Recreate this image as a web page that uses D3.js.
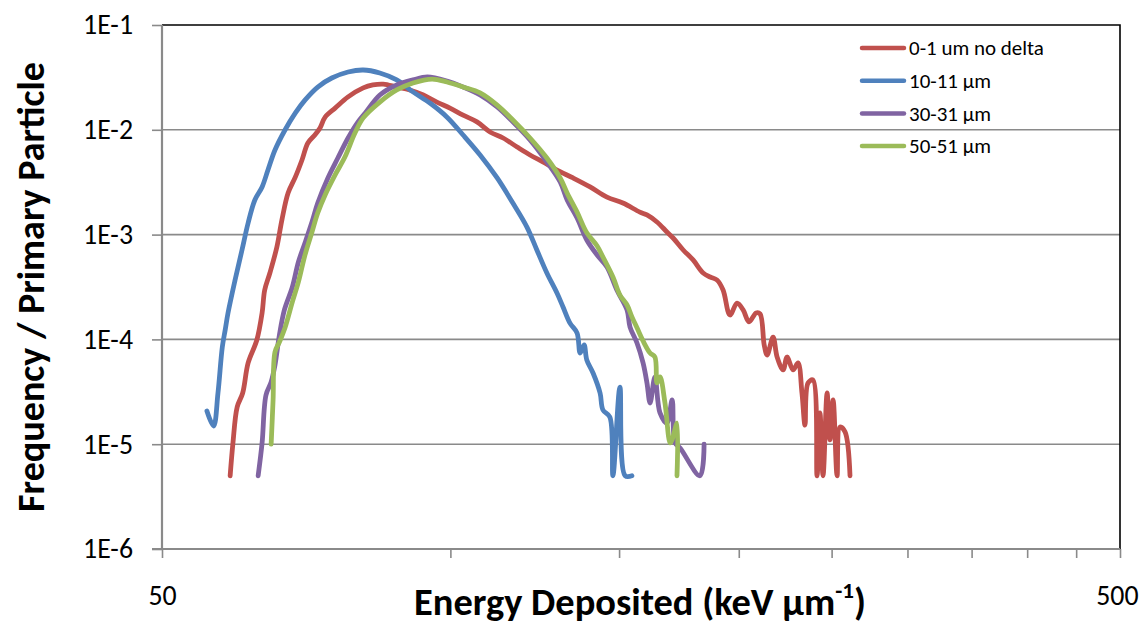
<!DOCTYPE html>
<html>
<head>
<meta charset="utf-8">
<script src="https://cdn.jsdelivr.net/npm/d3@7"></script>
<style>
  html, body { margin: 0; padding: 0; background: #ffffff; }
  svg { display: block; }
</style>
</head>
<body>
<svg id="chart" width="1140" height="625"></svg>
<script>
// Energy deposition spectra for different depth slices (log–log)
const seriesNames = ["0-1 um no delta", "10-11 µm", "30-31 µm", "50-51 µm"];
const seriesColors = ["#C0504D", "#4F81BD", "#8064A2", "#9BBB59"];

// 0-1 um, no delta rays
const energyRed = [58.9, 59.3, 59.9, 60.7, 61.5, 62.8, 63.6, 64.0, 64.8, 65.9, 66.7, 67.7, 68.9, 70.0, 71.0, 72.2, 73.1, 74.0, 75.8, 78.2,
  81.1, 83.0, 85.1, 87.9, 90.7, 93.7, 96.8, 99.9, 103.1, 106.6, 110.0, 113.5, 117.4, 121.1, 124.9, 129.2, 134.3, 139.9, 145.7, 151.4,
  157.7, 160.4, 164.3, 168.3, 170.8, 175.0, 179.2, 183.6, 186.7, 189.8, 192.6, 195.8, 199.2, 202.1, 205.0, 208.5, 210.5, 212.6, 214.1, 217.2,
  219.3, 222.5, 224.6, 227.9, 230.6, 232.8, 234.5, 236.2, 239.0, 241.4, 243.1, 244.9, 247.3, 249.0, 250.9, 253.3, 255.1, 258.2, 261.3];
const freqRed = [5.0e-6, 1.03e-5, 2.26e-5, 3.08e-5, 5.96e-5, 9.87e-5, 1.79e-4, 2.96e-4, 4.30e-4, 7.62e-4, 1.38e-3, 2.49e-3, 3.55e-3, 5.15e-3, 7.48e-3, 8.92e-3, 1.04e-2, 1.32e-2, 1.61e-2, 2.06e-2,
  2.51e-2, 2.68e-2, 2.73e-2, 2.56e-2, 2.40e-2, 2.15e-2, 1.84e-2, 1.61e-2, 1.38e-2, 1.19e-2, 9.53e-3, 8.35e-3, 6.85e-3, 5.75e-3, 4.93e-3, 4.13e-3, 3.47e-3, 2.85e-3, 2.28e-3, 2.00e-3,
  1.64e-3, 1.54e-3, 1.32e-3, 1.06e-3, 9.28e-4, 7.13e-4, 5.73e-4, 4.30e-4, 3.94e-4, 3.69e-4, 2.96e-4, 1.71e-4, 2.22e-4, 1.91e-4, 1.47e-4, 1.79e-4, 1.75e-4, 8.85e-5, 7.10e-5, 1.05e-4,
  6.79e-5, 5.11e-5, 6.79e-5, 5.11e-5, 5.96e-5, 3.08e-5, 1.52e-5, 3.84e-5, 4.10e-5, 5.0e-6, 1.99e-5, 5.0e-6, 3.08e-5, 1.10e-5, 2.64e-5, 5.0e-6, 1.46e-5, 1.31e-5, 5.0e-6];

// 10-11 µm
const energyBlue = [55.7, 56.6, 57.2, 57.8, 58.2, 58.6, 59.6, 60.6, 61.5, 62.5, 63.6, 64.5, 65.6, 67.2, 68.9, 70.5, 72.7, 75.2, 78.2, 81.1,
  84.4, 87.9, 91.4, 95.2, 99.2, 103.1, 107.4, 111.9, 116.2, 120.2, 123.1, 126.1, 129.2, 131.1, 133.3, 135.6, 136.6, 137.9, 138.8, 140.9,
  143.3, 144.3, 146.7, 147.8, 150.3, 152.2, 154.7];
const freqBlue = [2.07e-5, 1.49e-5, 3.08e-5, 8.46e-5, 1.23e-4, 1.79e-4, 3.69e-4, 7.13e-4, 1.29e-3, 2.14e-3, 2.85e-3, 4.13e-3, 6.41e-3, 9.96e-3, 1.45e-2, 1.92e-2, 2.56e-2, 3.12e-2, 3.56e-2, 3.72e-2,
  3.48e-2, 2.99e-2, 2.30e-2, 1.80e-2, 1.32e-2, 8.92e-3, 5.75e-3, 3.47e-3, 2.00e-3, 1.18e-3, 7.13e-4, 4.30e-4, 2.77e-4, 2.04e-4, 1.43e-4, 1.15e-4, 7.41e-5, 8.85e-5, 6.36e-5, 4.78e-5,
  3.08e-5, 2.12e-5, 1.82e-5, 5.0e-6, 3.5e-5, 5.0e-6, 5.0e-6];

// 30-31 µm
const energyPurple = [63.0, 63.6, 64.2, 65.0, 65.6, 66.3, 67.1, 68.4, 69.4, 70.5, 71.7, 72.7, 74.5, 76.3, 78.2, 80.1, 81.5, 84.4, 87.9, 91.4,
  94.6, 99.2, 103.1, 107.4, 111.9, 116.2, 121.1, 126.1, 130.2, 132.4, 135.6, 138.8, 142.3, 145.7, 149.2, 152.9, 154.0, 156.6, 158.9, 160.4,
  161.6, 163.5, 165.5, 168.3, 170.4, 171.6, 173.7, 182.2, 184.0];
const freqPurple = [5.0e-6, 1.03e-5, 2.95e-5, 3.92e-5, 5.70e-5, 1.10e-4, 1.91e-4, 3.16e-4, 5.48e-4, 8.32e-4, 1.32e-3, 2.00e-3, 3.47e-3, 5.38e-3, 8.35e-3, 1.19e-2, 1.45e-2, 2.15e-2, 2.68e-2, 2.99e-2,
  3.19e-2, 2.92e-2, 2.56e-2, 2.15e-2, 1.65e-2, 1.19e-2, 8.00e-3, 4.93e-3, 3.18e-3, 2.14e-3, 1.44e-3, 8.88e-4, 6.38e-4, 4.91e-4, 2.96e-4, 1.91e-4, 1.31e-4, 9.24e-5, 5.96e-5, 3.84e-5,
  2.47e-5, 4.38e-5, 1.99e-5, 1.59e-5, 2.64e-5, 1.03e-5, 9.2e-6, 5.0e-6, 1.0e-5];

// 50-51 µm
const energyGreen = [65.0, 65.3, 65.6, 66.3, 67.2, 68.4, 69.4, 70.5, 71.7, 72.7, 74.0, 75.8, 77.6, 79.5, 81.1, 84.4, 87.9, 91.4, 95.7, 99.2,
  103.1, 107.4, 111.9, 116.2, 121.1, 126.1, 130.2, 132.4, 135.6, 138.8, 142.3, 144.3, 147.8, 150.3, 152.9, 154.7, 156.6, 158.9, 161.6, 163.5,
  164.3, 165.5, 167.5, 169.6, 170.4, 172.4, 172.4];
const freqGreen = [1.0e-5, 2.64e-5, 7.58e-5, 9.44e-5, 1.29e-4, 2.28e-4, 3.53e-4, 6.38e-4, 1.06e-3, 1.61e-3, 2.39e-3, 3.71e-3, 5.50e-3, 9.32e-3, 1.30e-2, 1.84e-2, 2.40e-2, 2.80e-2, 3.05e-2, 2.86e-2,
  2.56e-2, 2.25e-2, 1.72e-2, 1.24e-2, 8.35e-3, 5.38e-3, 3.47e-3, 2.49e-3, 1.64e-3, 1.04e-3, 7.78e-4, 6.11e-4, 3.94e-4, 2.65e-4, 2.13e-4, 1.64e-4, 1.29e-4, 9.66e-5, 7.41e-5, 6.79e-5,
  3.84e-5, 4.38e-5, 2.47e-5, 1.03e-5, 1.10e-5, 1.59e-5, 5.0e-6];

// Axis ticks
const xTickValues = [50, 100, 150, 200, 250, 300, 350, 400, 450, 500];
const xTickLabels = ["50", "", "", "", "", "", "", "", "", "500"];
const yTickValues = [1e-6, 1e-5, 1e-4, 1e-3, 1e-2, 1e-1];
const yTickLabels = ["1E-6", "1E-5", "1E-4", "1E-3", "1E-2", "1E-1"];

const svg = d3.select("#chart");
const W = 1140, H = 625;
const plot = { left: 162, right: 1120, top: 25, bottom: 549 };
const tickFont = "Carlito, Calibri, Lato, 'Liberation Sans', sans-serif";
const gridColor = "#8a8a8a";

svg.append("rect").attr("width", W).attr("height", H).attr("fill", "#ffffff");

const x = d3.scaleLog().domain([50, 500]).range([plot.left, plot.right]);
const y = d3.scaleLog().domain([1e-6, 1e-1]).range([plot.bottom, plot.top]);

// scale a text element's font so its rendered width equals the target
function fitWidth(sel, target) {
  const w = sel.node().getComputedTextLength();
  const fs = parseFloat(sel.attr("font-size"));
  const size = fs * target / w;
  sel.attr("font-size", size);
  return size;
}
// find a font size for a string at which it spans the target width
function sizeFor(str, family, weight, base, target) {
  const probe = svg.append("text").attr("font-family", family)
    .attr("font-weight", weight).attr("font-size", base).text(str);
  const size = fitWidth(probe, target);
  probe.remove();
  return size;
}
const tickSize = sizeFor("1E-1", tickFont, "normal", 24, 50);
const legendSize = sizeFor(seriesNames[0], tickFont, "normal", 18, 135);

// horizontal gridlines at each decade
svg.append("g")
  .selectAll("line")
  .data(yTickValues.slice(1, -1))
  .join("line")
  .attr("x1", plot.left).attr("x2", plot.right)
  .attr("y1", d => y(d)).attr("y2", d => y(d))
  .attr("stroke", gridColor).attr("stroke-width", 1.6);

// plot-area frame (top and right edges)
svg.append("path")
  .attr("d", `M${plot.left},${y(1e-1)}H${plot.right}V${plot.bottom}`)
  .attr("fill", "none").attr("stroke", "#000").attr("stroke-width", 1.6);

// y axis
const yAxis = svg.append("g")
  .attr("transform", `translate(${plot.left},0)`)
  .call(d3.axisLeft(y).tickValues(yTickValues)
    .tickFormat((d, i) => yTickLabels[i]).tickSize(10).tickPadding(19));
yAxis.select(".domain").attr("stroke", gridColor).attr("stroke-width", 2.2)
  .attr("d", `M0,${plot.top}V${plot.bottom}`);
yAxis.selectAll(".tick line").attr("stroke", gridColor).attr("stroke-width", 1.6);
yAxis.selectAll(".tick text").attr("font-family", tickFont).attr("font-size", tickSize).attr("fill", "#000");

// x axis
const xAxis = svg.append("g")
  .attr("transform", `translate(0,${plot.bottom})`)
  .call(d3.axisBottom(x).tickValues(xTickValues)
    .tickFormat((d, i) => xTickLabels[i]).tickSize(9).tickPadding(27));
xAxis.select(".domain").attr("stroke", gridColor).attr("stroke-width", 2.2)
  .attr("d", `M${plot.left - 10},0H${plot.right}`);
xAxis.selectAll(".tick line").attr("stroke", gridColor).attr("stroke-width", 1.6);
xAxis.selectAll(".tick text").attr("font-family", tickFont).attr("font-size", tickSize).attr("fill", "#000");
// keep the last label inside the canvas edge
xAxis.selectAll(".tick text").filter(d => d === 500)
  .attr("text-anchor", "end").attr("x", W - 2 - plot.right);

// series lines
const seriesData = [
  d3.zip(energyRed, freqRed),
  d3.zip(energyBlue, freqBlue),
  d3.zip(energyPurple, freqPurple),
  d3.zip(energyGreen, freqGreen)
];
const line = d3.line()
  .x(d => x(d[0]))
  .y(d => y(d[1]))
  .curve(d3.curveCatmullRom.alpha(0.5));

svg.append("g")
  .selectAll("path")
  .data(seriesData)
  .join("path")
  .attr("d", line)
  .attr("fill", "none")
  .attr("stroke", (d, i) => seriesColors[i])
  .attr("stroke-width", 4.8)
  .attr("stroke-linejoin", "round")
  .attr("stroke-linecap", "round");

// legend
const legend = svg.append("g");
const legendRows = legend.selectAll("g")
  .data(seriesNames)
  .join("g")
  .attr("transform", (d, i) => `translate(862,${48 + i * 32.7})`);
legendRows.append("line")
  .attr("x1", 0).attr("x2", 42)
  .attr("stroke", (d, i) => seriesColors[i])
  .attr("stroke-width", 4.5).attr("stroke-linecap", "round");
legendRows.append("text")
  .attr("x", 47).attr("dy", "0.35em")
  .attr("font-family", tickFont).attr("font-size", legendSize).attr("fill", "#000")
  .text(d => d);

// axis titles, sized to their span
const titleFont = "Carlito, Calibri, 'Open Sans', 'Liberation Sans', sans-serif";

const yTitle = svg.append("text")
  .attr("transform", "translate(44,287) rotate(-90)")
  .attr("text-anchor", "middle")
  .attr("font-family", titleFont).attr("font-weight", "bold")
  .attr("font-size", 30).attr("fill", "#000")
  .text("Frequency / Primary Particle");
fitWidth(yTitle, 450);

const xTitle = svg.append("text")
  .attr("x", 640).attr("y", 615)
  .attr("text-anchor", "middle")
  .attr("font-family", titleFont).attr("font-weight", "bold")
  .attr("font-size", 28).attr("fill", "#000");
xTitle.append("tspan").text("Energy Deposited (keV µm");
xTitle.append("tspan").attr("font-size", "0.6em").attr("dy", "-0.75em").text("-1");
xTitle.append("tspan").attr("dy", "0.45em").text(")");
fitWidth(xTitle, 452);
</script>
</body>
</html>
